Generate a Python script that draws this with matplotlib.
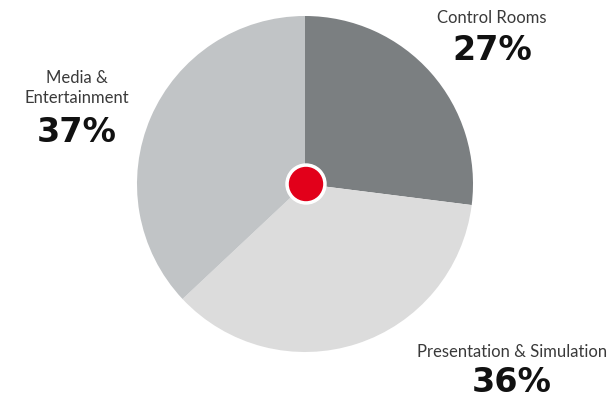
import matplotlib.pyplot as plt

labels = ["Control Rooms", "Presentation & Simulation", "Media &\nEntertainment"]
shares = [27, 36, 37]
colors = ["#7b7f81", "#dcdcdc", "#c1c4c6"]
label_pos = [(492, 18), (512, 352), (77, 88)]
pct_pos = [(492, 50), (512, 383), (77, 133)]

fig = plt.figure(figsize=(6.14, 4.02), dpi=100)
ax = fig.add_axes([0, 0, 1, 1])

# y axis is inverted, so counterclock=True draws clockwise on screen
ax.pie(shares, colors=colors, startangle=-90, counterclock=True,
       center=(305, 185), radius=168, frame=True,
       wedgeprops=dict(linewidth=0))
ax.set_xlim(0, 614)
ax.set_ylim(402, 0)
ax.set_aspect("equal")
ax.axis("off")

ax.add_patch(plt.Circle((306, 185), 20, color="white", zorder=5))
ax.add_patch(plt.Circle((306, 185), 16.5, color="#e2001a", zorder=6))

for lab, (x, y), (px, py), s in zip(labels, label_pos, pct_pos, shares):
    ax.text(x, y, lab, ha="center", va="center", fontsize=12,
            family="Lato", color="#3a3a3a", linespacing=1.3)
    ax.text(px, py, f"{s}%", ha="center", va="center", fontsize=24,
            family="DejaVu Sans", weight="bold", color="#111111")

fig.savefig("out.png", dpi=100)
